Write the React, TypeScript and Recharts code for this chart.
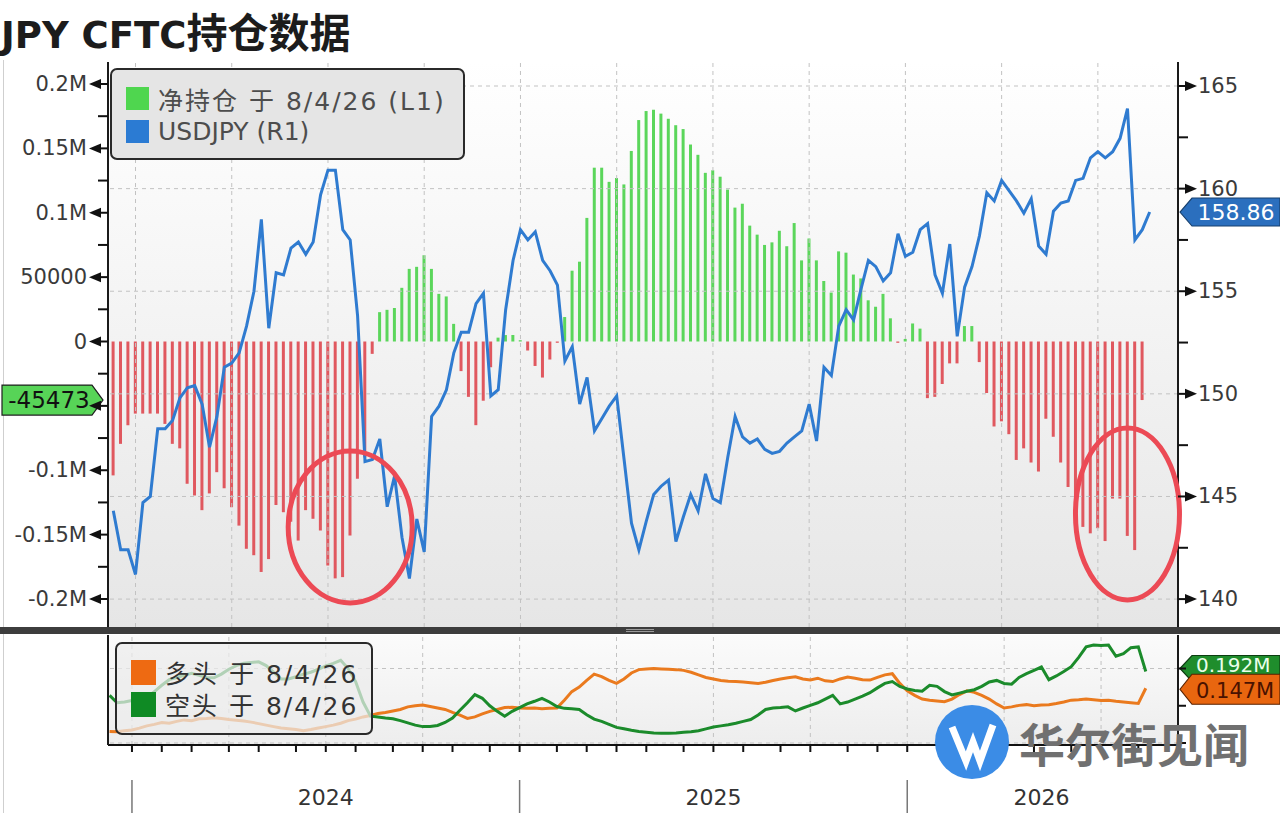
import React from 'react';
import {
  ComposedChart,
  Bar,
  Line,
  XAxis,
  YAxis,
  CartesianGrid,
  ReferenceLine,
  ReferenceDot,
  Cell,
  Legend,
} from 'recharts';

// ---------- categories (weekly CFTC report dates) ----------
const START_UTC = Date.UTC(2023, 11, 12);
const WEEK_MS = 7 * 86400000;
const ROWS = 144;
const dates: string[] = Array.from({ length: ROWS }, (_, i) =>
  new Date(START_UTC + i * WEEK_MS).toISOString().slice(0, 10)
);

// ---------- series ----------
const netPositions = [
  -104000, -79500, -65000, -56000, -56000, -56000, -56000, -64000, -79500, -83000,
  -110500, -119600, -131000, -118000, -101500, -114000, -128700, -143000, -161000, -166000,
  -179000, -169000, -127000, -132600, -140000, -154600, -131000, -137700, -146800, -174000,
  -184000, -183000, -150700, -106600, -90000, -9600, 22800, 24600, 26000, 41700,
  56400, 58000, 67000, 56400, 37000, 35000, 13700, -23000, -43000, -65000,
  -46000, -20000, 3000, 5000, 5000, 1000, -7000, -19000, -28000, -14000,
  -1000, 19000, 55000, 62000, 96000, 135000, 135000, 124000, 127000, 122000,
  148000, 172000, 179000, 180000, 177000, 173000, 168000, 165000, 153000, 145000,
  131000, 133000, 128000, 118000, 104000, 107000, 90000, 83000, 75000, 77000,
  86000, 74000, 92000, 63000, 80000, 63000, 47000, 38000, 70000, 69000,
  52000, 49000, 32000, 27000, 37000, 18000, -1000, 2000, 14000, 10000,
  -44000, -43000, -33000, -17000, -17000, 12000, 12000, -16000, -40000, -66000,
  -62000, -72000, -92000, -83000, -94000, -101000, -60000, -74000, -94000, -113000,
  -127000, -144000, -149000, -145000, -155000, -122000, -122000, -151000, -162000, -45473,
];

const usdjpy = [
  144.3, 142.4, 142.4, 141.2, 144.7, 145.0, 148.3, 148.3, 148.7, 149.8,
  150.3, 150.4, 149.5, 147.4, 148.9, 151.3, 151.5, 152.0, 153.3, 155.0,
  158.5, 153.2, 155.9, 155.8, 157.1, 157.4, 156.8, 157.4, 159.7, 160.9,
  160.9, 158.0, 157.5, 153.8, 146.7, 146.8, 147.8, 144.5, 146.0, 143.0,
  141.0, 143.9, 142.3, 148.9, 149.4, 150.2, 152.0, 153.0, 153.0, 154.4,
  154.9, 149.9, 150.2, 154.1, 156.5, 158.0, 157.5, 157.9, 156.5, 156.0,
  155.3, 151.6, 152.3, 149.5, 150.8, 148.2, 148.8, 149.4, 149.9, 146.8,
  143.7, 142.4, 143.8, 145.1, 145.5, 145.8, 142.8, 144.0, 145.1, 144.3,
  146.1, 144.9, 144.7, 146.9, 148.9, 147.9, 147.6, 147.8, 147.3, 147.1,
  147.2, 147.6, 147.9, 148.2, 149.5, 147.7, 151.3, 150.9, 153.3, 154.1,
  153.6, 155.1, 156.5, 156.2, 155.5, 155.9, 157.8, 156.7, 156.9, 158.0,
  158.3, 155.8, 154.9, 157.3, 152.8, 155.2, 156.2, 157.7, 159.8, 159.4,
  160.4, 159.9, 159.4, 158.8, 159.5, 157.2, 156.8, 158.9, 159.3, 159.4,
  160.4, 160.5, 161.5, 161.8, 161.5, 161.8, 162.45, 163.9, 157.5, 158.0,
  158.86,
];

const longPositions = [
  0.031, 0.030, 0.033, 0.035, 0.040, 0.046, 0.050, 0.055, 0.053, 0.058,
  0.062, 0.060, 0.065, 0.066, 0.068, 0.066, 0.063, 0.061, 0.059, 0.056,
  0.052, 0.048, 0.044, 0.040, 0.038, 0.036, 0.033, 0.036, 0.040, 0.044,
  0.048, 0.053, 0.060, 0.064, 0.070, 0.074, 0.079, 0.082, 0.086, 0.090,
  0.097, 0.100, 0.102, 0.098, 0.094, 0.090, 0.082, 0.075, 0.066, 0.070,
  0.078, 0.085, 0.090, 0.095, 0.096, 0.094, 0.093, 0.094, 0.092, 0.093,
  0.094, 0.115, 0.138, 0.150, 0.168, 0.185, 0.178, 0.168, 0.160, 0.172,
  0.188, 0.197, 0.199, 0.200, 0.199, 0.198, 0.197, 0.195, 0.190, 0.183,
  0.176, 0.172, 0.168, 0.166, 0.165, 0.164, 0.162, 0.160, 0.163, 0.168,
  0.172, 0.175, 0.178, 0.172, 0.169, 0.174, 0.167, 0.165, 0.172, 0.177,
  0.174, 0.170, 0.169, 0.176, 0.183, 0.186, 0.160, 0.140, 0.128, 0.118,
  0.115, 0.113, 0.111, 0.118, 0.130, 0.140, 0.136, 0.128, 0.118, 0.105,
  0.094, 0.097, 0.101, 0.103, 0.100, 0.102, 0.103, 0.106, 0.110, 0.115,
  0.116, 0.118, 0.116, 0.114, 0.115, 0.112, 0.110, 0.108, 0.106, 0.147,
];

const shortPositions = [
  0.128, 0.108, 0.110, 0.114, 0.118, 0.123, 0.138, 0.155, 0.170, 0.176,
  0.182, 0.187, 0.182, 0.176, 0.175, 0.185, 0.198, 0.208, 0.214, 0.216,
  0.218, 0.208, 0.190, 0.172, 0.172, 0.178, 0.185, 0.190, 0.198, 0.207,
  0.214, 0.222, 0.200, 0.165, 0.110, 0.072, 0.070, 0.067, 0.065, 0.060,
  0.054, 0.048, 0.044, 0.044, 0.047, 0.055, 0.067, 0.088, 0.108, 0.130,
  0.120, 0.100, 0.085, 0.072, 0.085, 0.095, 0.105, 0.112, 0.120, 0.110,
  0.098, 0.093, 0.092, 0.090, 0.076, 0.064, 0.058, 0.050, 0.042, 0.038,
  0.034, 0.031, 0.029, 0.027, 0.026, 0.026, 0.027, 0.029, 0.030, 0.033,
  0.038, 0.043, 0.046, 0.049, 0.053, 0.058, 0.063, 0.075, 0.090, 0.094,
  0.095, 0.097, 0.086, 0.094, 0.101, 0.108, 0.118, 0.128, 0.105, 0.110,
  0.118, 0.126, 0.135, 0.148, 0.160, 0.165, 0.152, 0.145, 0.141, 0.139,
  0.155, 0.152, 0.138, 0.129, 0.134, 0.139, 0.143, 0.152, 0.164, 0.168,
  0.160, 0.158, 0.176, 0.186, 0.195, 0.204, 0.170, 0.180, 0.192, 0.205,
  0.230, 0.258, 0.263, 0.262, 0.263, 0.233, 0.240, 0.256, 0.258, 0.192,
];

// ---------- ticks ----------
const leftTicks = [
  -200000, -175000, -150000, -125000, -100000, -75000, -50000, -25000, 0,
  25000, 50000, 75000, 100000, 125000, 150000, 175000, 200000,
];
const rightTicks = [140, 142.5, 145, 147.5, 150, 152.5, 155, 157.5, 160, 162.5, 165];
const rightGridValues = [140, 145, 150, 155, 160, 165];
const bottomTicksR = [0, 0.1, 0.2];
const bottomGridValues = [0, 0.2];
const yearLabels = [
  { date: '2024-07-02', label: '2024' },
  { date: '2025-07-01', label: '2025' },
  { date: '2026-05-05', label: '2026' },
];

const nearestDate = (y: number, m: number): string | null => {
  const i = Math.round((Date.UTC(y, m, 1) - START_UTC) / WEEK_MS);
  return i >= 0 && i < ROWS ? dates[i] : null;
};
const monthTicks: string[] = [];
const quarterTicks: string[] = [];
const yearStarts: string[] = [];
[2024, 2025, 2026].forEach((y) => {
  for (let m = 0; m < 12; m++) {
    const d = nearestDate(y, m);
    if (!d) continue;
    monthTicks.push(d);
    if (m % 3 === 0) quarterTicks.push(d);
    if (m === 0) yearStarts.push(d);
  }
});
const monthSet = new Set(monthTicks);
const yearStartSet = new Set(yearStarts);
const yearLabelMap: Record<string, string> = {};
yearLabels.forEach((y) => (yearLabelMap[y.date] = y.label));
const bottomTicks = Array.from(new Set([...monthTicks, ...yearLabels.map((y) => y.date)]));

const rows = dates.map((d, i) => ({
  date: d,
  net: i < netPositions.length ? netPositions[i] : null,
  usdjpy: i < usdjpy.length ? usdjpy[i] : null,
  long: i < longPositions.length ? longPositions[i] : null,
  short: i < shortPositions.length ? shortPositions[i] : null,
}));

const lastNet = netPositions[netPositions.length - 1];
const lastFx = usdjpy[usdjpy.length - 1];
const lastLong = longPositions[longPositions.length - 1];
const lastShort = shortPositions[shortPositions.length - 1];

// ---------- styles ----------
const FONT = '"DejaVu Sans", "Noto Sans CJK SC", sans-serif';
const RED = '#e0585f';
const GREEN = '#5bd65b';
const BLUE = '#2f7bd0';
const ORANGE = '#ea7a1e';
const DGREEN = '#1b8b2b';
const GRID = '#c2c2c2';

const topLegendItems = [
  { label: '净持仓 于 8/4/26 (L1)', color: '#4fd64f', spacing: 2 },
  { label: 'USDJPY (R1)', color: '#2b7bd3', spacing: 0 },
];
const bottomLegendItems = [
  { label: '多头 于 8/4/26', color: '#ee6a12', spacing: 2 },
  { label: '空头 于 8/4/26', color: '#0f8a24', spacing: 2 },
];

const fmtLeft = (v: number) => {
  if (v === 0) return '0';
  if (v === 50000) return '50000';
  if (v === -50000) return '';
  return `${v / 1e6}M`;
};

function LeftTick(p: any) {
  const { x, y, payload } = p;
  const v = payload.value as number;
  if (v % 50000 !== 0) {
    return <line x1={x - 10} x2={x} y1={y} y2={y} stroke="#111" strokeWidth={2} />;
  }
  return (
    <g>
      <line x1={x - 8} x2={x} y1={y} y2={y} stroke="#111" strokeWidth={2} />
      <polygon points={`${x - 19},${y} ${x - 7},${y - 5} ${x - 7},${y + 5}`} fill="#111" />
      <text x={x - 21} y={y} textAnchor="end" dominantBaseline="central" fontSize={21} fill="#3a3a3a" fontFamily={FONT}>
        {fmtLeft(v)}
      </text>
    </g>
  );
}

function RightTick(p: any) {
  const { x, y, payload } = p;
  const v = payload.value as number;
  if (v % 5 !== 0) {
    return <line x1={x} x2={x + 10} y1={y} y2={y} stroke="#111" strokeWidth={2} />;
  }
  return (
    <g>
      <line x1={x} x2={x + 8} y1={y} y2={y} stroke="#111" strokeWidth={2} />
      <polygon points={`${x + 19},${y} ${x + 7},${y - 5} ${x + 7},${y + 5}`} fill="#111" />
      <text x={x + 20} y={y} textAnchor="start" dominantBaseline="central" fontSize={21} fill="#3a3a3a" fontFamily={FONT}>
        {v}
      </text>
    </g>
  );
}

function SmallRightTick(p: any) {
  const { x, y } = p;
  return <line x1={x} x2={x + 8} y1={y} y2={y} stroke="#111" strokeWidth={2} />;
}

function BottomTick(p: any) {
  const { x, y, payload } = p;
  const v = payload.value as string;
  return (
    <g>
      {monthSet.has(v) && <line x1={x} x2={x} y1={y} y2={y + 7} stroke="#111" strokeWidth={2} />}
      {yearStartSet.has(v) && <line x1={x} x2={x} y1={y + 35} y2={y + 72} stroke="#777" strokeWidth={1.5} />}
      {yearLabelMap[v] && (
        <text x={x} y={y + 52} textAnchor="middle" dominantBaseline="central" fontSize={22} fill="#333" fontFamily={FONT}>
          {yearLabelMap[v]}
        </text>
      )}
    </g>
  );
}

function LegendBox({ items, width, height, bg, fontSize, padTop, padLeft, rowH, sq, color }: any) {
  return (
    <div
      style={{
        width,
        height,
        boxSizing: 'border-box',
        border: '2px solid #2a2a2a',
        borderRadius: 7,
        background: bg,
        paddingTop: padTop,
        paddingLeft: padLeft,
        fontFamily: FONT,
        fontSize,
        color,
        whiteSpace: 'nowrap',
      }}
    >
      {items.map((it: any) => (
        <div key={it.label} style={{ display: 'flex', alignItems: 'center', height: rowH }}>
          <span style={{ display: 'inline-block', width: sq, height: sq, background: it.color, marginRight: 9 }} />
          <span style={{ letterSpacing: it.spacing }}>{it.label}</span>
        </div>
      ))}
    </div>
  );
}

const tagText = (x: number, y: number, s: string, fill: string, anchor = 'middle', size = 22) => (
  <text x={x} y={y} textAnchor={anchor as any} dominantBaseline="central" fontSize={size} fill={fill} fontFamily={FONT}>
    {s}
  </text>
);

const LeftTag = (p: any) => (
  <g>
    <path d={`M2,${p.cy - 15} H92 L103,${p.cy} L92,${p.cy + 15} H2 Z`} fill="#57d457" stroke="#1e1e1e" strokeWidth={1.2} />
    {tagText(49, p.cy, String(lastNet), '#111', 'middle', 23)}
  </g>
);
const RightTag = (p: any) => (
  <g>
    <path d={`M1180,${p.cy} L1192,${p.cy - 14} H1280 V${p.cy + 14} H1192 Z`} fill="#2b6fbe" stroke="#17406e" strokeWidth={1.2} />
    {tagText(1236, p.cy, lastFx.toFixed(2), '#ffffff')}
  </g>
);
const ShortTag = (p: any) => (
  <g>
    <path d={`M1180,${p.cy - 3} L1192,${p.cy - 16} H1280 V${p.cy + 10} H1192 Z`} fill="#1f8d2c" stroke="#0d3d12" strokeWidth={1.2} />
    {tagText(1196, p.cy - 6, `${lastShort.toFixed(3)}M`, '#eaffea', 'start', 20)}
  </g>
);
const LongTag = (p: any) => (
  <g>
    <path d={`M1180,${p.cy + 1} L1192,${p.cy - 14} H1280 V${p.cy + 16} H1192 Z`} fill="#e8660f" stroke="#5a2200" strokeWidth={1.2} />
    {tagText(1196, p.cy + 3, `${lastLong.toFixed(3)}M`, '#4a1200', 'start', 21)}
  </g>
);
const ring = (rx: number, ry: number) => (p: any) => (
  <ellipse cx={p.cx} cy={p.cy} rx={rx} ry={ry} fill="none" stroke="#ec4a55" strokeWidth={5} />
);

const X_PAD = { left: 1.6, right: 2.4 };

export default function App() {
  return (
    <div style={{ position: 'absolute', left: 0, top: 0, width: 1280, height: 813, background: '#fff', overflow: 'hidden', fontFamily: FONT }}>
      <div style={{ position: 'absolute', left: 3, top: 60, width: 1, height: 753, background: '#cfcfcf' }} />
      <div
        style={{
          position: 'absolute',
          left: 1,
          top: 7,
          fontSize: 37,
          fontWeight: 700,
          color: '#1c1c1c',
          lineHeight: '46px',
          fontFamily: '"DejaVu Sans", "Noto Sans CJK SC", sans-serif',
          whiteSpace: 'nowrap',
        }}
      >
        JPY CFTC<span style={{ fontSize: 41, fontFamily: '"Noto Sans CJK SC", sans-serif' }}>持仓数据</span>
      </div>

      {/* top panel */}
      <div style={{ position: 'absolute', left: 0, top: 0 }}>
        <ComposedChart width={1280} height={627} data={rows} margin={{ top: 62, right: 0, bottom: 0, left: 0 }} barGap={0}>
          <defs>
            <linearGradient id="topBg" x1="0" y1="0" x2="0" y2="1">
              <stop offset="0%" stopColor="#ffffff" />
              <stop offset="100%" stopColor="#e6e6e6" />
            </linearGradient>
          </defs>
          <CartesianGrid yAxisId="left" horizontal={false} vertical={false} fill="url(#topBg)" fillOpacity={1} />
          <XAxis dataKey="date" hide padding={X_PAD} />
          <YAxis
            yAxisId="left"
            orientation="left"
            width={108}
            type="number"
            domain={[-221750, 217090]}
            ticks={leftTicks}
            interval={0}
            tick={<LeftTick />}
            tickLine={false}
            tickSize={0}
            tickMargin={0}
            axisLine={{ stroke: '#1a1a1a', strokeWidth: 2 }}
          />
          <YAxis
            yAxisId="right"
            orientation="right"
            width={102}
            type="number"
            domain={[138.64, 166.17]}
            ticks={rightTicks}
            interval={0}
            tick={<RightTick />}
            tickLine={false}
            tickSize={0}
            tickMargin={0}
            axisLine={{ stroke: '#1a1a1a', strokeWidth: 2 }}
          />
          {rightGridValues.map((v) => (
            <ReferenceLine key={`h${v}`} yAxisId="right" y={v} stroke={GRID} strokeDasharray="4 4" strokeWidth={1} />
          ))}
          {quarterTicks.map((d) => (
            <ReferenceLine key={`v${d}`} yAxisId="right" x={d} stroke={GRID} strokeDasharray="4 4" strokeWidth={1} />
          ))}
          <Bar yAxisId="left" dataKey="net" barSize={3} isAnimationActive={false}>
            {rows.map((r) => (
              <Cell key={r.date} fill={(r.net ?? 0) >= 0 ? GREEN : RED} />
            ))}
          </Bar>
          <Line yAxisId="right" dataKey="usdjpy" stroke={BLUE} strokeWidth={3} dot={false} isAnimationActive={false} />
          <ReferenceDot yAxisId="left" x={dates[0]} y={lastNet} r={0} shape={LeftTag} />
          <ReferenceDot yAxisId="right" x={dates[usdjpy.length - 1]} y={lastFx} r={0} shape={RightTag} />
          <ReferenceDot yAxisId="left" x={dates[32]} y={-144000} r={0} shape={ring(62, 76)} />
          <ReferenceDot yAxisId="left" x={dates[137]} y={-134000} r={0} shape={ring(52, 86)} />
          <Legend
            layout="horizontal"
            verticalAlign="middle"
            align="center"
            wrapperStyle={{ left: 110, top: 68, width: 360 }}
            content={() => (
              <LegendBox items={topLegendItems} width={355} height={92} bg="#e5e5e5" fontSize={25} padTop={12} padLeft={14} rowH={33} sq={23} color="#4d4d4d" />
            )}
          />
        </ComposedChart>
      </div>

      {/* bottom panel */}
      <div style={{ position: 'absolute', left: 0, top: 627 }}>
        <ComposedChart width={1280} height={186} data={rows} margin={{ top: 8, right: 0, bottom: 0, left: 0 }}>
          <defs>
            <linearGradient id="botBg" x1="0" y1="0" x2="0" y2="1">
              <stop offset="0%" stopColor="#fbfbfb" />
              <stop offset="100%" stopColor="#ededed" />
            </linearGradient>
          </defs>
          <CartesianGrid yAxisId="r" horizontal={false} vertical={false} fill="url(#botBg)" fillOpacity={1} />
          <XAxis
            dataKey="date"
            height={68}
            padding={X_PAD}
            ticks={bottomTicks}
            interval={0}
            tick={<BottomTick />}
            tickLine={false}
            tickSize={0}
            tickMargin={0}
            axisLine={{ stroke: '#111', strokeWidth: 2 }}
          />
          <YAxis yAxisId="l" orientation="left" width={108} type="number" domain={[-0.0054, 0.29]} tick={false} tickLine={false} axisLine={{ stroke: '#1a1a1a', strokeWidth: 2 }} />
          <YAxis
            yAxisId="r"
            orientation="right"
            width={102}
            type="number"
            domain={[-0.0054, 0.29]}
            ticks={bottomTicksR}
            interval={0}
            tick={<SmallRightTick />}
            tickLine={false}
            tickSize={0}
            tickMargin={0}
            axisLine={{ stroke: '#1a1a1a', strokeWidth: 2 }}
          />
          {bottomGridValues.map((v) => (
            <ReferenceLine key={`bh${v}`} yAxisId="r" y={v} stroke={GRID} strokeDasharray="4 4" strokeWidth={1} />
          ))}
          {quarterTicks.map((d) => (
            <ReferenceLine key={`bv${d}`} yAxisId="r" x={d} stroke={GRID} strokeDasharray="4 4" strokeWidth={1} />
          ))}
          <Line yAxisId="r" dataKey="long" stroke={ORANGE} strokeWidth={3} dot={false} isAnimationActive={false} />
          <Line yAxisId="r" dataKey="short" stroke={DGREEN} strokeWidth={3} dot={false} isAnimationActive={false} />
          <ReferenceDot yAxisId="r" x={dates[shortPositions.length - 1]} y={lastShort} r={0} shape={ShortTag} />
          <ReferenceDot yAxisId="r" x={dates[longPositions.length - 1]} y={lastLong} r={0} shape={LongTag} />
          <Legend
            layout="horizontal"
            verticalAlign="middle"
            align="center"
            wrapperStyle={{ left: 115, top: 15, width: 262 }}
            content={() => (
              <LegendBox items={bottomLegendItems} width={258} height={93} bg="rgba(236,236,236,0.72)" fontSize={25} padTop={12} padLeft={14} rowH={32} sq={25} color="#333" />
            )}
          />
        </ComposedChart>
      </div>

      {/* panel separator */}
      <div style={{ position: 'absolute', left: 0, top: 627, width: 1280, height: 7, background: '#3d3d3d' }}>
        <div style={{ position: 'absolute', left: 626, top: 2, width: 28, height: 1, background: '#9a9a9a' }} />
        <div style={{ position: 'absolute', left: 626, top: 4, width: 28, height: 1, background: '#9a9a9a' }} />
      </div>

      {/* watermark */}
      <div style={{ position: 'absolute', left: 935, top: 705, width: 74, height: 74, borderRadius: '50%', background: '#3b8ce6' }}>
        <svg width={74} height={74}>
          <path d="M17 22 L31 56 L38 37 L45 56 L58 20" stroke="#ffffff" strokeWidth={7} fill="none" strokeLinejoin="miter" />
        </svg>
      </div>
      <div
        style={{
          position: 'absolute',
          left: 1019,
          top: 713,
          fontSize: 46,
          fontWeight: 700,
          color: '#707070',
          lineHeight: '58px',
          fontFamily: '"Noto Sans CJK SC", sans-serif',
          whiteSpace: 'nowrap',
        }}
      >
        华尔街见闻
      </div>
    </div>
  );
}
